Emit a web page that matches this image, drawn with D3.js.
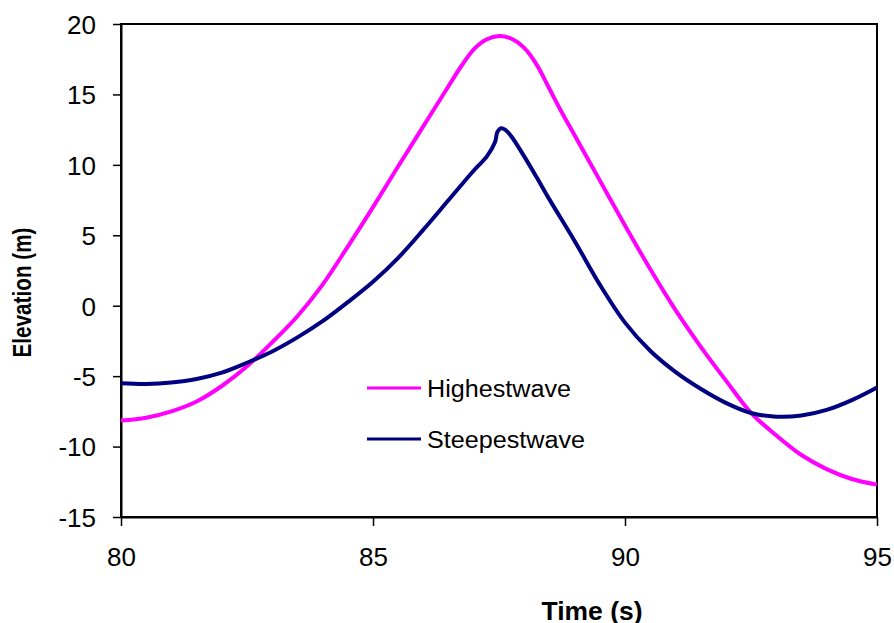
<!DOCTYPE html>
<html>
<head>
<meta charset="utf-8">
<script src="https://cdn.jsdelivr.net/npm/d3@7"></script>
<style>
  html, body { margin: 0; padding: 0; background: #fff; }
  svg { display: block; }
  text { font-family: Arial, "Liberation Sans", sans-serif; fill: #000; }
</style>
</head>
<body>
<svg id="chart" width="894" height="623"></svg>
<script>
// Surface elevation time series (m) at a gauge, 80–95 s
const timeHighest = [80, 80.5, 81, 81.5, 82, 82.5, 83, 83.5, 84, 84.5, 85, 85.5, 86, 86.5, 86.75, 87, 87.25, 87.5, 87.75, 88, 88.25, 88.5, 88.75, 89, 89.5, 90, 90.5, 91, 91.5, 92, 92.5, 93, 93.5, 94, 94.5, 95];
const elevHighest = [-8.15, -7.95, -7.5, -6.8, -5.7, -4.3, -2.6, -0.75, 1.5, 4.2, 7.0, 9.9, 12.75, 15.6, 17.0, 18.2, 18.9, 19.15, 18.95, 18.3, 17.1, 15.4, 13.7, 12.1, 8.9, 5.7, 2.6, -0.3, -2.9, -5.3, -7.6, -9.2, -10.6, -11.6, -12.3, -12.7];

const timeSteepest = [80, 80.5, 81, 81.5, 82, 82.5, 83, 83.5, 84, 84.5, 85, 85.5, 86, 86.5, 87, 87.26, 87.42, 87.47, 87.54, 87.62, 87.75, 88, 88.25, 88.5, 89, 89.5, 90, 90.5, 91, 91.5, 92, 92.5, 93, 93.5, 94, 94.5, 95];
const elevSteepest = [-5.5, -5.55, -5.45, -5.2, -4.75, -4.05, -3.25, -2.25, -1.1, 0.25, 1.7, 3.4, 5.4, 7.5, 9.6, 10.6, 11.6, 12.35, 12.6, 12.5, 12.0, 10.6, 9.1, 7.55, 4.6, 1.5, -1.2, -3.2, -4.7, -5.9, -6.9, -7.62, -7.88, -7.8, -7.4, -6.7, -5.8];

const xTicks = [80, 85, 90, 95];
const yTicks = [-15, -10, -5, 0, 5, 10, 15, 20];

const seriesNames = ["Highestwave", "Steepestwave"];
const seriesColors = ["#ff00ff", "#000080"];

const svg = d3.select("#chart");
const plotLeft = 121, plotRight = 877, plotTop = 24, plotBottom = 517;

const x = d3.scaleLinear().domain([80, 95]).range([plotLeft, plotRight]);
const y = d3.scaleLinear().domain([-15, 20]).range([plotBottom, plotTop]);

// Plot frame
svg.append("rect")
  .attr("x", plotLeft).attr("y", plotTop)
  .attr("width", plotRight - plotLeft).attr("height", plotBottom - plotTop)
  .attr("fill", "none").attr("stroke", "#000").attr("stroke-width", 2);

// Axes (plain hyphen for negative labels)
const plainNumber = d => String(d);
const yAxis = svg.append("g")
  .attr("transform", `translate(${plotLeft},0)`)
  .call(d3.axisLeft(y).tickValues(yTicks).tickSize(8).tickSizeOuter(0).tickPadding(17).tickFormat(plainNumber));
const xAxis = svg.append("g")
  .attr("transform", `translate(0,${plotBottom})`)
  .call(d3.axisBottom(x).tickValues(xTicks).tickSize(9).tickSizeOuter(0).tickPadding(22).tickFormat(plainNumber));

[yAxis, xAxis].forEach(g => {
  g.select(".domain").attr("stroke", "#000").attr("stroke-width", 2);
  g.selectAll(".tick line").attr("stroke", "#000").attr("stroke-width", 1.5);
  g.selectAll(".tick text")
    .attr("font-family", "Arial, 'Liberation Sans', sans-serif")
    .attr("font-size", 26).attr("fill", "#000");
});
yAxis.selectAll(".tick text").attr("dy", "0.36em");
xAxis.selectAll(".tick text").attr("dy", "0.71em");

// Series lines
const line = d3.line()
  .x(d => x(d[0]))
  .y(d => y(d[1]))
  .curve(d3.curveCatmullRom.alpha(0.5));

const series = [
  d3.zip(timeHighest, elevHighest),
  d3.zip(timeSteepest, elevSteepest)
];

series.forEach((pts, i) => {
  svg.append("path")
    .datum(pts)
    .attr("d", line)
    .attr("fill", "none")
    .attr("stroke", seriesColors[i])
    .attr("stroke-width", 4)
    .attr("stroke-linejoin", "round")
    .attr("stroke-linecap", "butt");
});

// Legend
const legendRows = [
  { y: 388, baseline: 397, len: 144 },
  { y: 439, baseline: 448, len: 158 }
];
seriesNames.forEach((name, i) => {
  const r = legendRows[i];
  svg.append("line")
    .attr("x1", 367).attr("x2", 421)
    .attr("y1", r.y).attr("y2", r.y)
    .attr("stroke", seriesColors[i]).attr("stroke-width", 3);
  svg.append("text")
    .attr("x", 427).attr("y", r.baseline)
    .attr("font-size", 23)
    .attr("textLength", r.len)
    .attr("lengthAdjust", "spacingAndGlyphs")
    .text(name);
});

// Axis titles
svg.append("text")
  .attr("x", 592).attr("y", 620)
  .attr("text-anchor", "middle")
  .attr("font-size", 26).attr("font-weight", "bold")
  .attr("textLength", 101).attr("lengthAdjust", "spacingAndGlyphs")
  .text("Time (s)");

svg.append("text")
  .attr("transform", "translate(31,292.5) rotate(-90)")
  .attr("text-anchor", "middle")
  .attr("font-size", 25).attr("font-weight", "bold")
  .attr("textLength", 130).attr("lengthAdjust", "spacingAndGlyphs")
  .text("Elevation (m)");
</script>
</body>
</html>
